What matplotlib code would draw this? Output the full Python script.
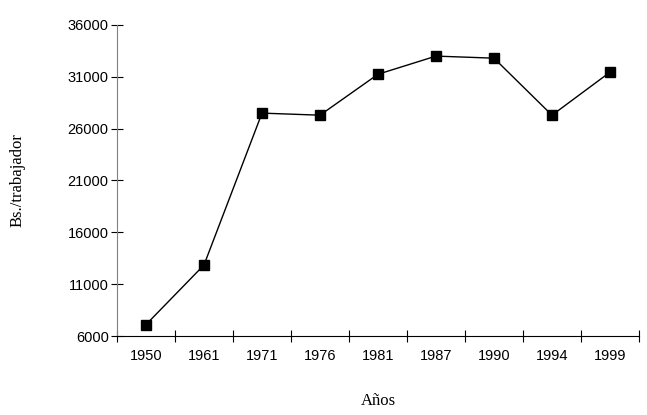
import matplotlib
matplotlib.use('Agg')
from matplotlib import pyplot as plt
import numpy as np

years = ['1950', '1961', '1971', '1976', '1981', '1987', '1990', '1994', '1999']
values = [7100, 12850, 27500, 27300, 31250, 33000, 32800, 27300, 31450]

fig = plt.figure(figsize=(6.47, 4.15), dpi=100)
ax = fig.add_axes([117/647, 1-336/415, 522/647, (336-25)/415])
x = np.arange(len(years))
ax.plot(x, values, color='black', linewidth=1, marker='s', markersize=7)
ax.set_xlim(-0.5, len(years)-0.5)
ax.set_ylim(6000, 36000)
ax.set_yticks(range(6000, 36001, 5000))
ax.set_xticks(x)
ax.set_xticklabels(years, fontfamily='Liberation Sans', fontsize=10.5)
for t in ax.get_yticklabels():
    t.set_fontfamily('Liberation Sans')
    t.set_fontsize(10.5)
ax.set_xticks(np.arange(-0.5, len(years)), minor=True)
ax.tick_params(axis='x', which='major', length=0, pad=9)
ax.tick_params(axis='x', which='minor', length=8, direction='inout', width=0.8)
ax.tick_params(axis='y', length=8, direction='inout', width=0.8, pad=2)
for s in ['top', 'right']:
    ax.spines[s].set_visible(False)
ax.spines['left'].set_color('#808080')
ax.set_xlabel('Años', fontfamily='Liberation Serif', fontsize=12, labelpad=22)
ax.set_ylabel('Bs./trabajador', fontfamily='Liberation Serif', fontsize=12, labelpad=30)
fig.savefig('out.png', dpi=100)
